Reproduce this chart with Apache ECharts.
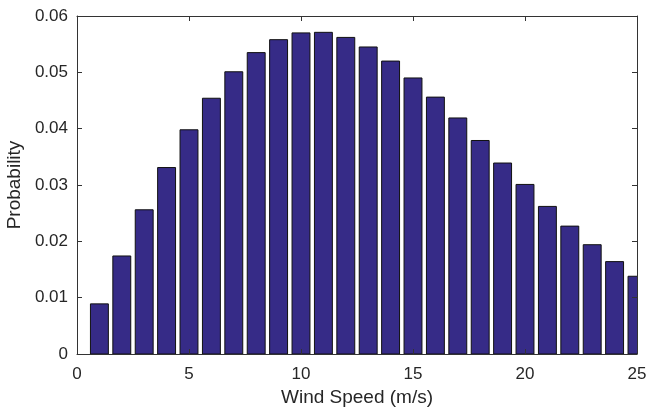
<!DOCTYPE html>
<html>
<head>
<meta charset="utf-8">
<script src="https://cdn.jsdelivr.net/npm/echarts@6/dist/echarts.min.js"></script>
<style>
html,body{margin:0;padding:0;background:#fff;}
#chart{width:649px;height:407px;}
</style>
</head>
<body>
<div id="chart"></div>
<script>
const windSpeeds = [1,2,3,4,5,6,7,8,9,10,11,12,13,14,15,16,17,18,19,20,21,22,23,24,25];
const probabilities = [0.0089,0.0174,0.0256,0.0331,0.0398,0.0454,0.0501,0.0535,0.0558,0.0570,0.0571,0.0562,0.0545,0.0520,0.0490,0.0456,0.0419,0.0379,0.0339,0.0301,0.0262,0.0227,0.0194,0.0164,0.0138];
const xTitle = 'Wind Speed (m/s)';
const yTitle = 'Probability';

const chart = echarts.init(document.getElementById('chart'), null, {renderer:'canvas'});
const axisCol = '#333333';
const textCol = '#262626';
const font = 'Liberation Sans, Arial, sans-serif';
const barRel = 0.8;
const data = windSpeeds.map((x,i)=>[x, probabilities[i]]);

chart.setOption({
  animation:false,
  grid:{left:77, right:12, top:16, bottom:53, containLabel:false, outerBoundsMode:'none'},
  xAxis:[{
    type:'value', min:0, max:25, interval:5, position:'bottom',
    name:xTitle, nameLocation:'middle', nameGap:33,
    nameTextStyle:{color:textCol, fontSize:19, fontFamily:font},
    axisLine:{show:true, onZero:false, lineStyle:{color:axisCol, width:1}},
    axisTick:{show:true, inside:true, length:5, lineStyle:{color:axisCol}},
    axisLabel:{color:textCol, fontSize:17, fontFamily:font, margin:12},
    splitLine:{show:false}, z:5
  },{
    type:'value', min:0, max:25, interval:5, position:'top',
    axisLine:{show:true, onZero:false, lineStyle:{color:axisCol, width:1}},
    axisTick:{show:true, inside:true, length:5, lineStyle:{color:axisCol}},
    axisLabel:{show:false}, splitLine:{show:false}, z:5
  }],
  yAxis:[{
    type:'value', min:0, max:0.06, interval:0.01, position:'left',
    name:yTitle, nameLocation:'middle', nameGap:47,
    nameTextStyle:{color:textCol, fontSize:19, fontFamily:font},
    axisLine:{show:true, onZero:false, lineStyle:{color:axisCol, width:1}},
    axisTick:{show:true, inside:true, length:5, lineStyle:{color:axisCol}},
    axisLabel:{color:textCol, fontSize:17, fontFamily:font, margin:9,
      formatter:v=>String(+v.toFixed(2))},
    splitLine:{show:false}, z:5
  },{
    type:'value', min:0, max:0.06, interval:0.01, position:'right',
    axisLine:{show:true, onZero:false, lineStyle:{color:axisCol, width:1}},
    axisTick:{show:true, inside:true, length:5, lineStyle:{color:axisCol}},
    axisLabel:{show:false}, splitLine:{show:false}, z:5
  }],
  series:[{
    type:'custom', xAxisIndex:0, yAxisIndex:0, data:data, clip:true,
    encode:{x:0, y:1},
    renderItem:function(params, api){
      const x = api.value(0), y = api.value(1);
      const p0 = api.coord([x - barRel/2, 0]);
      const p1 = api.coord([x + barRel/2, y]);
      return {
        type:'rect',
        shape:{x:p0[0], y:p1[1], width:p1[0]-p0[0], height:p0[1]-p1[1]},
        style:{fill:'#362b87', stroke:'#111111', lineWidth:1}
      };
    }
  }]
});
</script>
</body>
</html>
